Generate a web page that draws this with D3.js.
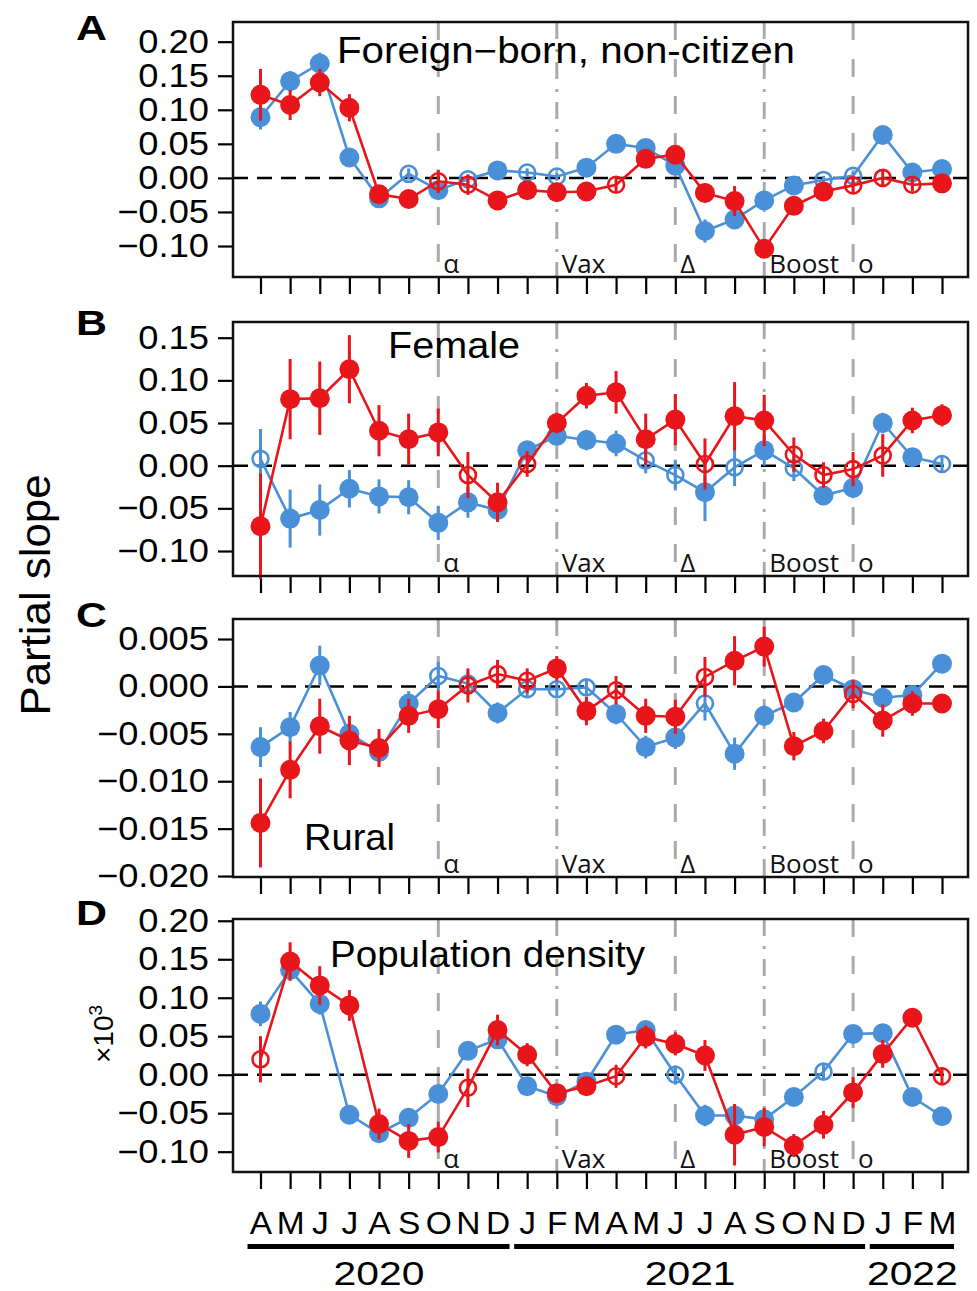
<!DOCTYPE html>
<html>
<head>
<meta charset="utf-8">
<script src="https://cdn.jsdelivr.net/npm/d3@7"></script>
<style>
  body { margin: 0; background: #fff; }
  text { font-family: "Liberation Sans", Arial, sans-serif; }
</style>
</head>
<body>
<script>
// months Apr 2020 .. Mar 2022
var months = ["A","M","J","J","A","S","O","N","D","J","F","M","A","M","J","J","A","S","O","N","D","J","F","M"];
var years = ["2020", "2021", "2022"];
var yearFrom = [0, 9, 21];
var yearTo = [8, 20, 23];

// events (month index)
var eventIdx = [6, 10, 14, 17, 20];
var eventLabel = ["α", "Vax", "Δ", "Boost", "o"];
var eventDash = ["dash", "dotdash", "dash", "dotdash", "dash"];

// panel A: foreign-born, non-citizen
var aBlue = [0.089, 0.142, 0.168, 0.030, -0.030, 0.006, -0.018, -0.002, 0.011, 0.008, 0.002, 0.015, 0.050, 0.044, 0.018, -0.078, -0.061, -0.033, -0.011, -0.003, 0.003, 0.063, 0.008, 0.013];
var aBlueErr = [0.018, 0.015, 0.016, 0.008, 0.008, 0.008, 0.008, 0.006, 0.006, 0.006, 0.006, 0.006, 0.006, 0.006, 0.008, 0.017, 0.012, 0.008, 0.006, 0.006, 0.006, 0.008, 0.006, 0.006];
var aBlueOpen = [5, 7, 9, 10, 19, 20];
var aRed = [0.122, 0.107, 0.140, 0.103, -0.024, -0.031, -0.005, -0.010, -0.033, -0.018, -0.021, -0.020, -0.010, 0.028, 0.034, -0.022, -0.034, -0.104, -0.041, -0.020, -0.011, 0.000, -0.010, -0.008];
var aRedErr = [0.038, 0.022, 0.020, 0.020, 0.010, 0.012, 0.017, 0.015, 0.012, 0.010, 0.008, 0.008, 0.012, 0.012, 0.012, 0.014, 0.022, 0.012, 0.010, 0.008, 0.010, 0.012, 0.010, 0.008];
var aRedOpen = [6, 7, 12, 20, 21, 22];

// panel B: female
var bBlue = [0.008, -0.062, -0.052, -0.027, -0.036, -0.037, -0.067, -0.043, -0.052, 0.018, 0.035, 0.030, 0.026, 0.006, -0.011, -0.031, -0.002, 0.018, -0.003, -0.035, -0.026, 0.050, 0.010, 0.002];
var bBlueErr = [0.035, 0.034, 0.030, 0.022, 0.020, 0.020, 0.020, 0.018, 0.010, 0.010, 0.010, 0.012, 0.015, 0.015, 0.018, 0.034, 0.022, 0.018, 0.015, 0.010, 0.012, 0.012, 0.008, 0.010];
var bBlueOpen = [0, 13, 14, 16, 18, 23];
var bRed = [-0.071, 0.078, 0.079, 0.113, 0.041, 0.031, 0.039, -0.011, -0.043, 0.002, 0.050, 0.082, 0.086, 0.031, 0.054, 0.002, 0.058, 0.053, 0.013, -0.011, -0.004, 0.012, 0.053, 0.059];
var bRedErr = [0.062, 0.047, 0.043, 0.040, 0.030, 0.030, 0.028, 0.027, 0.023, 0.015, 0.012, 0.015, 0.025, 0.030, 0.030, 0.030, 0.040, 0.030, 0.020, 0.015, 0.020, 0.025, 0.015, 0.013];
var bRedOpen = [7, 9, 15, 18, 19, 20, 21];

// panel C: rural
var cBlue = [-0.0064, -0.0043, 0.0022, -0.0050, -0.0069, -0.0018, 0.0011, 0.0003, -0.0028, -0.0003, -0.0003, -0.0001, -0.0029, -0.0064, -0.0054, -0.0018, -0.0071, -0.0031, -0.0017, 0.0012, -0.0003, -0.0012, -0.0009, 0.0024];
var cBlueErr = [0.0021, 0.0016, 0.0021, 0.0012, 0.0012, 0.0013, 0.0015, 0.0012, 0.0011, 0.0008, 0.0008, 0.0008, 0.0011, 0.0012, 0.0012, 0.0018, 0.0017, 0.0011, 0.0009, 0.0008, 0.0008, 0.0009, 0.0009, 0.0010];
var cBlueOpen = [6, 7, 9, 10, 11, 15];
var cRed = [-0.0144, -0.0088, -0.0042, -0.0057, -0.0065, -0.0031, -0.0024, 0.0001, 0.0013, 0.0006, 0.0019, -0.0026, -0.0004, -0.0031, -0.0032, 0.0010, 0.0027, 0.0042, -0.0063, -0.0047, -0.0008, -0.0036, -0.0018, -0.0018];
var cRedErr = [0.0047, 0.0030, 0.0029, 0.0026, 0.0020, 0.0018, 0.0020, 0.0018, 0.0015, 0.0013, 0.0013, 0.0015, 0.0015, 0.0018, 0.0018, 0.0021, 0.0026, 0.0021, 0.0015, 0.0013, 0.0015, 0.0017, 0.0013, 0.0010];
var cRedOpen = [7, 8, 9, 12, 15, 20];

// panel D: population density (x10^3)
var dBlue = [0.079, 0.136, 0.092, -0.052, -0.076, -0.056, -0.025, 0.031, 0.046, -0.015, -0.028, -0.009, 0.052, 0.058, 0.000, -0.053, -0.053, -0.058, -0.029, 0.004, 0.053, 0.054, -0.029, -0.054];
var dBlueErr = [0.016, 0.012, 0.014, 0.012, 0.010, 0.010, 0.012, 0.010, 0.010, 0.010, 0.008, 0.008, 0.010, 0.012, 0.012, 0.014, 0.014, 0.010, 0.008, 0.010, 0.008, 0.008, 0.008, 0.008];
var dBlueOpen = [14, 19];
var dRed = [0.020, 0.147, 0.116, 0.090, -0.064, -0.086, -0.081, -0.017, 0.058, 0.026, -0.024, -0.015, -0.002, 0.049, 0.040, 0.025, -0.078, -0.068, -0.092, -0.065, -0.023, 0.027, 0.074, -0.002];
var dRedErr = [0.030, 0.025, 0.025, 0.020, 0.020, 0.022, 0.020, 0.025, 0.020, 0.015, 0.012, 0.012, 0.015, 0.015, 0.015, 0.020, 0.040, 0.025, 0.015, 0.018, 0.020, 0.018, 0.012, 0.012];
var dRedOpen = [0, 7, 12, 23];

var panelLetters = ["A", "B", "C", "D"];
var panelTitles = ["Foreign\u2212born, non-citizen", "Female", "Rural", "Population density"];
var aTicks = [-0.10, -0.05, 0, 0.05, 0.10, 0.15, 0.20];
var bTicks = [-0.10, -0.05, 0, 0.05, 0.10, 0.15];
var cTicks = [-0.020, -0.015, -0.010, -0.005, 0, 0.005];
var dTicks = [-0.10, -0.05, 0, 0.05, 0.10, 0.15, 0.20];

var blue = "#4a90d9";
var red = "#e8161b";
var grey = "#a9abaa";

var W = 977, H = 1291;
var left = 233, right = 968;
// layout: box top/bottom, y limits, title position/width, letter baseline
var panels = [
    { top: 22, bottom: 277, dom: [-0.1455, 0.2289], ticks: aTicks, fmt: ".2f", blue: aBlue, blueErr: aBlueErr, blueOpen: aBlueOpen, red: aRed, redErr: aRedErr, redOpen: aRedOpen, tx: 337, ty: 63, tw: 458, ly: 40 },
    { top: 322, bottom: 576, dom: [-0.1293, 0.1684], ticks: bTicks, fmt: ".2f", blue: bBlue, blueErr: bBlueErr, blueOpen: bBlueOpen, red: bRed, redErr: bRedErr, redOpen: bRedOpen, tx: 388, ty: 358, tw: 132, ly: 335 },
    { top: 619, bottom: 877, dom: [-0.0201, 0.00711], ticks: cTicks, fmt: ".3f", blue: cBlue, blueErr: cBlueErr, blueOpen: cBlueOpen, red: cRed, redErr: cRedErr, redOpen: cRedOpen, tx: 304, ty: 850, tw: 91, ly: 627 },
    { top: 919, bottom: 1172, dom: [-0.1264, 0.2023], ticks: dTicks, fmt: ".2f", blue: dBlue, blueErr: dBlueErr, blueOpen: dBlueOpen, red: dRed, redErr: dRedErr, redOpen: dRedOpen, tx: 330, ty: 967, tw: 315, ly: 925 }
];

var svg = d3.select("body").append("svg").attr("width", W).attr("height", H);
svg.append("rect").attr("width", W).attr("height", H).attr("fill", "#fff");

var x = d3.scalePoint().domain(d3.range(months.length)).range([260.5, 942]);

//把文字横向拉宽一点
function stretch(sel, k) {
    sel.each(function () {
        var w = this.getComputedTextLength();
        d3.select(this).attr("textLength", w * k).attr("lengthAdjust", "spacingAndGlyphs");
    });
}

panels.forEach(function (p, pi) {
    var g = svg.append("g");
    var y = d3.scaleLinear().domain(p.dom).range([p.bottom, p.top]);

    // left axis
    var ya = g.append("g").attr("transform", "translate(" + left + ",0)")
        .call(d3.axisLeft(y).tickValues(p.ticks).tickFormat(d3.format(p.fmt)).tickSize(15).tickPadding(9));
    ya.select(".domain").remove();
    ya.selectAll(".tick line").attr("stroke", "#000").attr("stroke-width", 2.2);
    ya.selectAll(".tick text").attr("font-size", 33).attr("fill", "#000")
        .style("font-family", "'Liberation Sans', Arial, sans-serif");
    stretch(ya.selectAll(".tick text"), 1.1);

    // bottom axis
    var xa = g.append("g").attr("transform", "translate(0," + p.bottom + ")")
        .call(d3.axisBottom(x).tickSize(17).tickPadding(23).tickFormat(function (i) { return pi == 3 ? months[i] : ""; }));
    xa.select(".domain").remove();
    xa.selectAll(".tick line").attr("stroke", "#000").attr("stroke-width", 2.2);
    xa.selectAll(".tick text").attr("font-size", 31).attr("fill", "#000")
        .style("font-family", "'Liberation Sans', Arial, sans-serif");
    if (pi == 3) stretch(xa.selectAll(".tick text"), 1.08);

    // event lines
    eventIdx.forEach(function (ei, k) {
        g.append("line")
            .attr("x1", x(ei)).attr("x2", x(ei))
            .attr("y1", p.top).attr("y2", p.bottom)
            .attr("stroke", grey).attr("stroke-width", 3)
            .attr("stroke-dasharray", eventDash[k] == "dash" ? "18,19" : "17,10,3,10");
        g.append("text")
            .attr("x", x(ei) + 5).attr("y", p.bottom - 4)
            .style("font-family", "'Open Sans', 'DejaVu Sans', sans-serif")
            .attr("font-size", 26).attr("fill", "#111")
            .text(eventLabel[k]);
    });

    // zero line
    g.append("line")
        .attr("x1", left).attr("x2", right)
        .attr("y1", y(0)).attr("y2", y(0))
        .attr("stroke", "#000").attr("stroke-width", 2.5)
        .attr("stroke-dasharray", "15,9");

    // title
    g.append("text").attr("x", p.tx).attr("y", p.ty)
        .attr("font-size", 36).attr("fill", "#000")
        .attr("textLength", p.tw).attr("lengthAdjust", "spacingAndGlyphs")
        .text(panelTitles[pi]);

    // panel letter
    g.append("text").attr("x", 76).attr("y", p.ly)
        .attr("font-size", 35).attr("font-weight", "bold").attr("fill", "#000")
        .attr("textLength", 31).attr("lengthAdjust", "spacingAndGlyphs")
        .text(panelLetters[pi]);

    // series
    var series = [
        { v: p.blue, e: p.blueErr, open: p.blueOpen, c: blue },
        { v: p.red, e: p.redErr, open: p.redOpen, c: red }
    ];
    series.forEach(function (s) {
        var line = d3.line().x(function (d, i) { return x(i); }).y(function (d) { return y(d); });
        g.append("path").datum(s.v).attr("d", line)
            .attr("fill", "none").attr("stroke", s.c).attr("stroke-width", 2.6);
        g.selectAll(null).data(s.v).enter().append("line")
            .attr("x1", function (d, i) { return x(i); })
            .attr("x2", function (d, i) { return x(i); })
            .attr("y1", function (d, i) { return y(d - s.e[i]); })
            .attr("y2", function (d, i) { return y(d + s.e[i]); })
            .attr("stroke", s.c).attr("stroke-width", 3);
        g.selectAll(null).data(s.v).enter().append("circle")
            .attr("cx", function (d, i) { return x(i); })
            .attr("cy", function (d) { return y(d); })
            .attr("r", function (d, i) { return s.open.indexOf(i) >= 0 ? 8 : 10; })
            .attr("fill", function (d, i) { return s.open.indexOf(i) >= 0 ? "none" : s.c; })
            .attr("stroke", s.c)
            .attr("stroke-width", function (d, i) { return s.open.indexOf(i) >= 0 ? 2.6 : 0; });
    });

    // box
    g.append("rect").attr("x", left).attr("y", p.top)
        .attr("width", right - left).attr("height", p.bottom - p.top)
        .attr("fill", "none").attr("stroke", "#111").attr("stroke-width", 2.5);
});

// year bars
years.forEach(function (yr, k) {
    svg.append("line")
        .attr("x1", x(yearFrom[k]) - 13).attr("x2", x(yearTo[k]) + 12)
        .attr("y1", 1246.5).attr("y2", 1246.5)
        .attr("stroke", "#000").attr("stroke-width", 5);
    var t = svg.append("text")
        .attr("x", (x(yearFrom[k]) + x(yearTo[k])) / 2).attr("y", 1285)
        .attr("text-anchor", "middle").attr("font-size", 34).attr("fill", "#000")
        .text(yr);
    stretch(t, 1.2);
});

// y title
svg.append("text")
    .attr("transform", "translate(50,595) rotate(-90)")
    .attr("text-anchor", "middle").attr("font-size", 42).attr("fill", "#000")
    .attr("textLength", 241).attr("lengthAdjust", "spacingAndGlyphs")
    .text("Partial slope");

// x10^3 for panel D
var e3 = svg.append("text")
    .attr("transform", "translate(113,1034) rotate(-90)")
    .attr("text-anchor", "middle").attr("font-size", 28).attr("fill", "#000");
e3.append("tspan").text("\u00d710");
e3.append("tspan").attr("dy", -11).attr("font-size", 19).text("3");
</script>
</body>
</html>
